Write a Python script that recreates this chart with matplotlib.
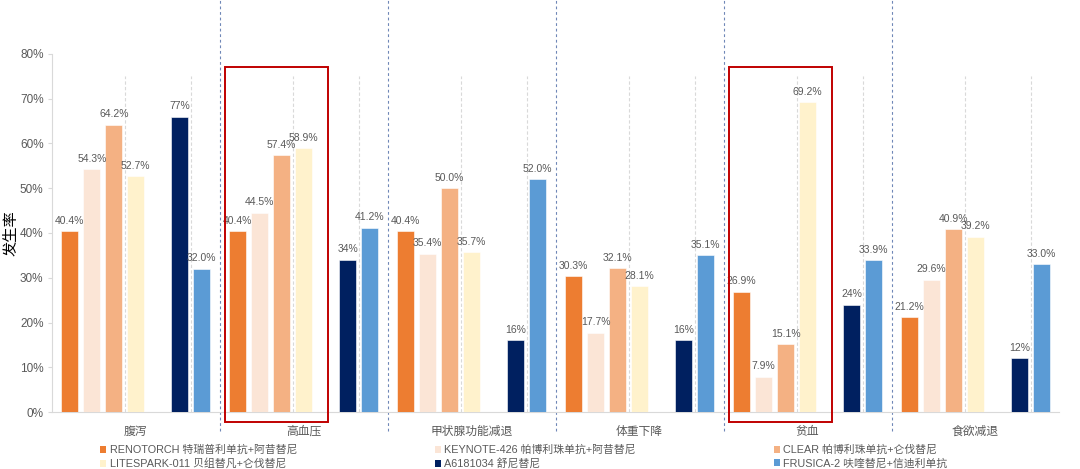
import matplotlib
matplotlib.use("Agg")
import matplotlib.pyplot as plt
from matplotlib.patches import Patch, Rectangle

plt.rcParams['font.family'] = ['Liberation Sans', 'Noto Sans CJK SC', 'DejaVu Sans']

categories = ["腹泻", "高血压", "甲状腺功能减退", "体重下降", "贫血", "食欲减退"]
series_names = ["RENOTORCH 特瑞普利单抗+阿昔替尼",
                "KEYNOTE-426 帕博利珠单抗+阿昔替尼",
                "CLEAR 帕博利珠单抗+仑伐替尼",
                "LITESPARK-011 贝组替凡+仑伐替尼",
                "A6181034 舒尼替尼",
                "FRUSICA-2 呋喹替尼+信迪利单抗"]
renotorch = [40.4, 40.4, 40.4, 30.3, 26.9, 21.2]
keynote426 = [54.3, 44.5, 35.4, 17.7, 7.9, 29.6]
clear = [64.2, 57.4, 50.0, 32.1, 15.1, 40.9]
litespark = [52.7, 58.9, 35.7, 28.1, 69.2, 39.2]
a6181034 = [66, 34, 16, 16, 24, 12]          # drawn bar heights
a6181034_labels = ["77%", "34%", "16%", "16%", "24%", "12%"]
frusica = [32.0, 41.2, 52.0, 35.1, 33.9, 33.0]
yticks = [0, 10, 20, 30, 40, 50, 60, 70, 80]

colors = ["#ED7D31", "#FBE5D6", "#F4B183", "#FFF2CC", "#002060", "#5B9BD5"]
slots = [-3, -2, -1, 0, 2, 3]
step = 0.131
width = 0.102

fig = plt.figure(figsize=(10.8, 4.69), dpi=100)
ax = fig.add_axes([0.048, 0.1215, 0.933, 0.7634])

all_vals = [renotorch, keynote426, clear, litespark, a6181034, frusica]
gray = "#595959"
for si, vals in enumerate(all_vals):
    xs = [i + slots[si] * step for i in range(len(categories))]
    ax.bar(xs, vals, width=width, color=colors[si], edgecolor="white",
           linewidth=0.4, zorder=3)
    for j, (x, v) in enumerate(zip(xs, vals)):
        if si == 4:
            lab = a6181034_labels[j]
        else:
            lab = f"{v:.1f}%"
        ax.text(x, v + 1.2, lab, ha="center", va="bottom", fontsize=7.5,
                color=gray, zorder=5)

# light dashed guide lines
for i in range(len(categories)):
    for off in (-0.5, 2.5):
        ax.plot([i + off * step] * 2, [0, 75], color="#D9D9D9", lw=0.8,
                ls=(0, (3, 2)), zorder=1)

# group separators
for i in range(1, len(categories)):
    ax.plot([i - 0.5] * 2, [-4.2, 92], color="#6F87B7", lw=0.8,
            ls=(0, (2.5, 2.5)), zorder=2, clip_on=False)

# red highlight boxes
for i in (1, 4):
    r = Rectangle((i - 0.47, -2.2), 0.615, 79.3, fill=False,
                  edgecolor="#C00000", lw=1.4, zorder=6, clip_on=False)
    ax.add_patch(r)

ax.set_xlim(-0.5, len(categories) - 0.5)
ax.set_ylim(0, 80)
ax.set_yticks(yticks)
ax.set_yticklabels([f"{t}%" for t in yticks], fontsize=8.5, color=gray)
ax.set_xticks(range(len(categories)))
ax.set_xticklabels(categories, fontsize=8.5, color=gray)
ax.tick_params(axis="x", length=0, pad=10)
ax.tick_params(axis="y", length=3, color="#D9D9D9", pad=3)
for s in ("top", "right"):
    ax.spines[s].set_visible(False)
ax.spines["left"].set_color("#D9D9D9")
ax.spines["bottom"].set_color("#D9D9D9")
ax.set_ylabel("发生率", fontsize=11, color="black")
ax.yaxis.set_label_coords(-0.033, 0.5)

order = [0, 3, 1, 4, 2, 5]
handles = [Patch(facecolor=colors[k], edgecolor="none") for k in order]
labels = [series_names[k] for k in order]
leg = fig.legend(handles, labels, ncol=3, loc="upper left",
                 bbox_to_anchor=(0.0925, 0.052), frameon=False, fontsize=7.8,
                 borderpad=0, borderaxespad=0,
                 handlelength=0.6, handleheight=0.6, handletextpad=0.3,
                 columnspacing=12.7, labelspacing=0.3)
for t in leg.get_texts():
    t.set_color(gray)

fig.savefig("out.png", dpi=100)
